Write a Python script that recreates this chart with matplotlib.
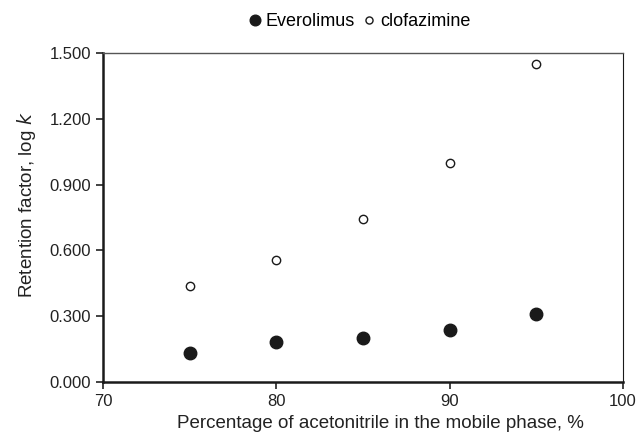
import matplotlib.pyplot as plt
from matplotlib.ticker import FormatStrFormatter

plt.rcParams['font.family'] = ['Liberation Sans', 'DejaVu Sans']

# Percentage of acetonitrile in the mobile phase
acn = [75, 80, 85, 90, 95]
# Retention factor, log k
everolimus = [0.132, 0.182, 0.201, 0.237, 0.310]
clofazimine = [0.438, 0.558, 0.741, 0.999, 1.450]

fig = plt.figure(figsize=(6.42, 4.40), dpi=100)
ax = fig.add_axes([103 / 642, 58 / 440, 520 / 642, 329 / 440])

ax.plot(acn, everolimus, 'o', color='#1a1a1a', markersize=9, label='Everolimus')
ax.plot(acn, clofazimine, 'o', markerfacecolor='white', markeredgecolor='#1a1a1a',
        markeredgewidth=1.0, markersize=6, label='clofazimine')

ax.set_xlim(70, 100)
ax.set_ylim(0, 1.5)
ax.set_xticks([70, 80, 90, 100])
ax.set_yticks([0, 0.3, 0.6, 0.9, 1.2, 1.5])
ax.yaxis.set_major_formatter(FormatStrFormatter('%.3f'))
ax.tick_params(direction='out', length=5, width=1.2, labelsize=12,
               colors='#222222', pad=3.5)

for side in ['left', 'bottom']:
    ax.spines[side].set_linewidth(1.8)
    ax.spines[side].set_color('#1a1a1a')
ax.spines['top'].set_linewidth(1.0)
ax.spines['top'].set_color('#555555')
ax.spines['right'].set_linewidth(0.8)
ax.spines['right'].set_color('#1a1a1a')

ax.set_xlabel('Percentage of acetonitrile in the mobile phase, %', fontsize=13.5,
              color='#222222')
ax.set_ylabel('Retention factor, log $\\it{k}$', fontsize=13.5, color='#222222')
ax.xaxis.set_label_coords(0.533, -0.10)
ax.yaxis.set_label_coords(-0.125, 0.538)

ax.legend(loc='center', bbox_to_anchor=(358 / 642, 1 - 22 / 440),
          bbox_transform=fig.transFigure, ncol=2, frameon=False,
          fontsize=13, handletextpad=0.1, columnspacing=0.3, handlelength=1.0,
          markerscale=0.85)

plt.savefig('out.png', dpi=100)
